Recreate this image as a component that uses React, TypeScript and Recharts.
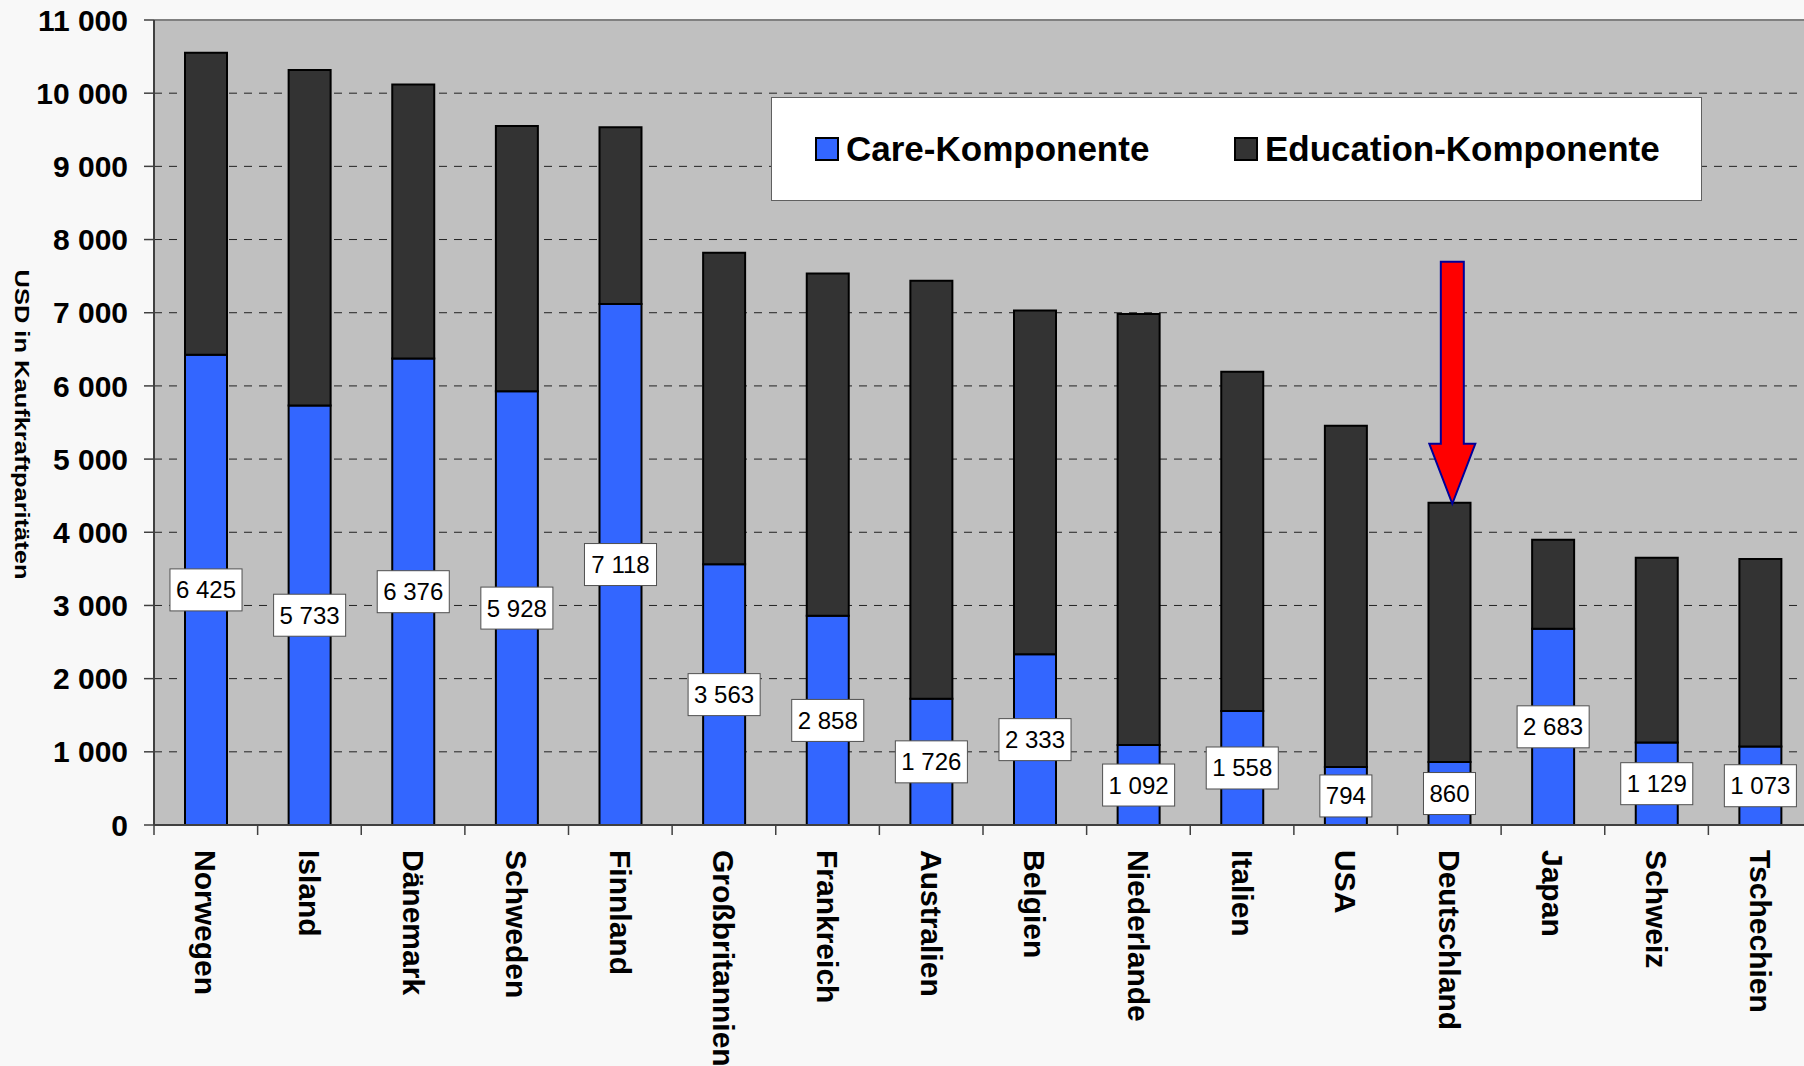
import React from "react";
import {
  BarChart,
  Bar,
  XAxis,
  YAxis,
  CartesianGrid,
  Legend,
  LabelList,
  ReferenceLine,
  ReferenceDot,
} from "recharts";

const countries = [
  "Norwegen",
  "Island",
  "Dänemark",
  "Schweden",
  "Finnland",
  "Großbritannien",
  "Frankreich",
  "Australien",
  "Belgien",
  "Niederlande",
  "Italien",
  "USA",
  "Deutschland",
  "Japan",
  "Schweiz",
  "Tschechien",
];

// Care-Komponente (beschriftete Werte)
const careValues = [6425, 5733, 6376, 5928, 7118, 3563, 2858, 1726, 2333, 1092, 1558, 794, 860, 2683, 1129, 1073];

const educationValues = [4128, 4585, 3742, 3625, 2417, 4255, 4678, 5710, 4696, 5889, 4635, 4661, 3543, 1215, 2523, 2561];

const yTicks = [0, 1000, 2000, 3000, 4000, 5000, 6000, 7000, 8000, 9000, 10000, 11000];

const highlighted = "Deutschland";

const data = countries.map((name, i) => ({
  name,
  care: careValues[i],
  education: educationValues[i],
}));

const hiIndex = countries.indexOf(highlighted);
const hiTotal = careValues[hiIndex] + educationValues[hiIndex];

const CHART_W = 1812;
const CHART_H = 1066;
const Y_AXIS_W = 154;
const X_AXIS_H = 241;
const HALF_BAND = (CHART_W - Y_AXIS_W) / countries.length / 2;
const FONT = '"Liberation Sans", Arial, Helvetica, sans-serif';

const fmt = (v: number) => String(v).replace(/\B(?=(\d{3})+(?!\d))/g, " ");

// Kategorie-Beschriftung, senkrecht, plus Trennstrich zwischen den Ländern
const CountryTick = ({ x, y, payload }: any) => (
  <g>
    <line x1={x - HALF_BAND} x2={x - HALF_BAND} y1={y - 10} y2={y} stroke="#404040" strokeWidth={1.5} />
    <text
      transform={`translate(${x},${y + 15}) rotate(90)`}
      textAnchor="start"
      dominantBaseline="central"
      fontFamily={FONT}
      fontWeight="bold"
      fontSize={30}
      fill="#000"
    >
      {payload.value}
    </text>
  </g>
);

// weiße Wertebox in der Mitte des Care-Segments
const CareLabel = (props: any) => {
  const vb = props.viewBox || props;
  const cx = vb.x + vb.width / 2;
  const cy = vb.y + vb.height / 2;
  const txt = fmt(props.value);
  const tw = txt.split("").reduce((s: number, c: string) => s + (c === " " ? 0.278 : 0.556) * 24, 0);
  const w = tw + 12;
  const h = 42;
  return (
    <g>
      <rect x={cx - w / 2} y={cy - h / 2} width={w} height={h} fill="#fff" stroke="#505050" strokeWidth={1} />
      <text x={cx} y={cy} textAnchor="middle" dominantBaseline="central" fontFamily={FONT} fontSize={24} fill="#000">
        {txt}
      </text>
    </g>
  );
};

const ArrowShape = ({ cx, cy }: any) => {
  const x = cx + 3;
  const tip = cy + 1;
  const d = [
    `M${x - 11.5},${tip - 242}`,
    `L${x + 11.5},${tip - 242}`,
    `L${x + 11.5},${tip - 60}`,
    `L${x + 23},${tip - 60}`,
    `L${x},${tip}`,
    `L${x - 23},${tip - 60}`,
    `L${x - 11.5},${tip - 60}`,
    "Z",
  ].join(" ");
  return <path d={d} fill="#ff0000" stroke="#000099" strokeWidth={2} strokeLinejoin="miter" />;
};

const LegendContent = ({ payload }: any) => {
  const lefts = [43, 462];
  return (
    <div style={{ position: "relative", width: "100%", height: "100%" }}>
      {(payload || []).map((entry: any, i: number) => (
        <div
          key={entry.value}
          style={{
            position: "absolute",
            left: lefts[i],
            top: 0,
            height: "100%",
            display: "flex",
            alignItems: "center",
          }}
        >
          <span
            style={{
              display: "inline-block",
              width: 20,
              height: 20,
              background: entry.color,
              border: "2px solid #000",
              marginRight: 7,
            }}
          />
          <span
            style={{
              fontFamily: FONT,
              fontWeight: "bold",
              fontSize: 35,
              color: "#000",
              whiteSpace: "nowrap",
            }}
          >
            {entry.value}
          </span>
        </div>
      ))}
    </div>
  );
};

const YLabel = ({ viewBox }: any) => {
  const x = viewBox.x + 15;
  const y = viewBox.y + viewBox.height / 2 + 2;
  return (
    <text
      transform={`translate(${x},${y}) rotate(90)`}
      textAnchor="middle"
      fontFamily={FONT}
      fontWeight="bold"
      fontSize={21}
      textLength={310}
      lengthAdjust="spacingAndGlyphs"
      fill="#000"
    >
      USD in Kaufkraftparitäten
    </text>
  );
};

export default function App() {
  return (
    <div
      style={{
        position: "absolute",
        left: 0,
        top: 0,
        width: 1804,
        height: 1066,
        overflow: "hidden",
        background: "#f8f8f8",
      }}
    >
      <BarChart
        width={CHART_W}
        height={CHART_H}
        data={data}
        margin={{ top: 20, right: 0, bottom: 0, left: 0 }}
        barSize={42}
      >
        <CartesianGrid
          vertical={false}
          fill="#c0c0c0"
          stroke="#222"
          strokeDasharray="8 7"
          fillOpacity={1}
        />
        <XAxis
          dataKey="name"
          interval={0}
          height={X_AXIS_H}
          tickLine={false}
          tickSize={10}
          tickMargin={0}
          axisLine={{ stroke: "#404040", strokeWidth: 2 }}
          tick={<CountryTick />}
        />
        <YAxis
          width={Y_AXIS_W}
          domain={[0, 11000]}
          ticks={yTicks}
          interval={0}
          tickFormatter={fmt}
          tickSize={10}
          tickMargin={16}
          tickLine={{ stroke: "#404040", strokeWidth: 1.5 }}
          axisLine={{ stroke: "#404040", strokeWidth: 2 }}
          tick={{ fontFamily: FONT, fontWeight: "bold", fontSize: 30, fill: "#000" }}
          label={<YLabel />}
        />
        <ReferenceLine y={11000} stroke="#808080" strokeWidth={2} />
        <Legend
          layout="vertical"
          align="center"
          verticalAlign="middle"
          content={<LegendContent />}
          wrapperStyle={{
            position: "absolute",
            left: 771,
            top: 97,
            width: 931,
            height: 104,
            background: "#fff",
            border: "1.5px solid #606060",
            boxSizing: "border-box",
            margin: 0,
          }}
        />
        <Bar
          dataKey="care"
          name="Care-Komponente"
          stackId="a"
          fill="#3366ff"
          stroke="#000"
          strokeWidth={2}
          isAnimationActive={false}
        >
          <LabelList dataKey="care" position="center" content={<CareLabel />} />
        </Bar>
        <Bar
          dataKey="education"
          name="Education-Komponente"
          stackId="a"
          fill="#333333"
          stroke="#000"
          strokeWidth={2}
          isAnimationActive={false}
        />
        <ReferenceDot x={highlighted} y={hiTotal} r={0} shape={<ArrowShape />} ifOverflow="visible" />
      </BarChart>
    </div>
  );
}
